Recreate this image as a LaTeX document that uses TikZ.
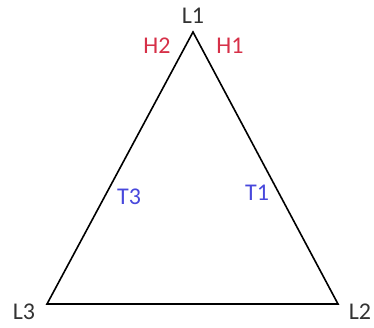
\documentclass[tikz,border=0pt]{standalone}
\usepackage{fontspec}
\setmainfont{Carlito}
\definecolor{hred}{RGB}{214,48,72}
\definecolor{tblue}{RGB}{72,72,220}
\begin{document}
\begin{tikzpicture}[x=1pt,y=-1pt,
  lbl/.style={inner sep=0pt,font=\fontsize{24}{24}\selectfont},
  edge/.style={draw=black,line width=1.6pt}]
\useasboundingbox (0,0) rectangle (374,327);
\coordinate (v1) at (193,32);
\coordinate (v2) at (338,304);
\coordinate (v3) at (47,304);
\draw[edge,line join=miter] (v1) -- (v2) -- (v3) -- cycle;
\node[lbl,text=black!80] (l1) at (193,16) {L1};
\node[lbl,text=black!80] (l2) at (360,312) {L2};
\node[lbl,text=black!80] (l3) at (24,312) {L3};
\node[lbl,text=hred] (h2) at (157,46) {H2};
\node[lbl,text=hred] (h1) at (230,46) {H1};
\node[lbl,text=tblue] (t3) at (129,197) {T3};
\node[lbl,text=tblue] (t1) at (257,193) {T1};
\end{tikzpicture}
\end{document}
